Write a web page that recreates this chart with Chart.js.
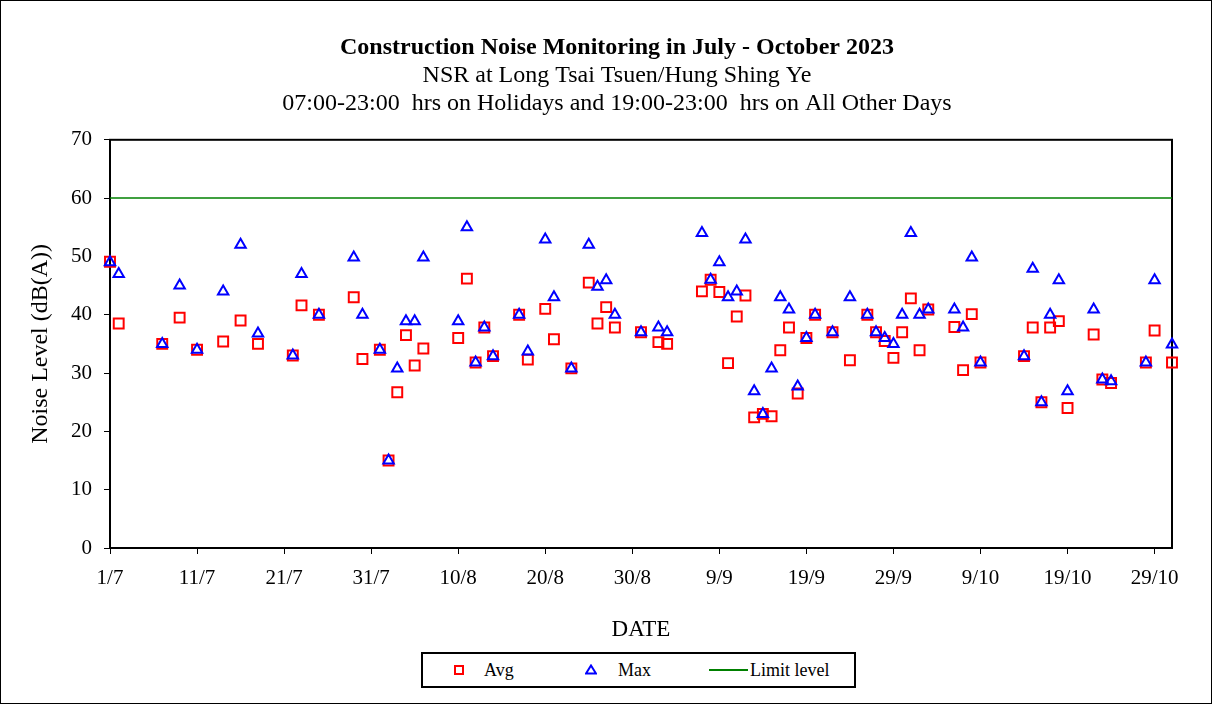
<!DOCTYPE html>
<html>
<head>
<meta charset="utf-8">
<script src="https://cdn.jsdelivr.net/npm/chart.js@4.4.0/dist/chart.umd.min.js"></script>
<style>
    html, body { margin: 0; padding: 0; background: #fff; }
    #wrap { position: relative; width: 1212px; height: 704px; }
    #frame { position: absolute; left: 0; top: 0; width: 1210px; height: 702px; border: 1px solid #000; pointer-events: none; }
    #legend { position: absolute; left: 421px; top: 652px; width: 431px; height: 32px; border: 2px solid #000;
              font-family: 'Liberation Serif', serif; font-size: 18px; color: #000; background: #fff; }
    .item { position: absolute; top: 0; height: 32px; line-height: 32px; white-space: nowrap; }
    .sq { position: absolute; top: 11px; width: 6px; height: 6px; border: 2px solid #ff0000; }
    .tri { position: absolute; top: 10px; }
    .ln { position: absolute; top: 15px; height: 2px; background: #008000; }
</style>
</head>
<body>
<div id="wrap">
    <canvas id="noise-chart" width="1212" height="704"></canvas>
    <div id="legend">
        <span class="sq" style="left:31px"></span>
        <span class="item" style="left:61px">Avg</span>
        <svg class="tri" style="left:162px" width="12" height="11"><polygon points="6,1.5 11,9.5 1,9.5" fill="none" stroke="#0000ff" stroke-width="2"/></svg>
        <span class="item" style="left:195px">Max</span>
        <span class="ln" style="left:286px; width:39px"></span>
        <span class="item" style="left:327px">Limit level</span>
    </div>
    <div id="frame"></div>
</div>
<script>
// Monitoring dates (day/month, 2023)
const dates = ['1/7', '2/7', '7/7', '9/7', '11/7', '14/7', '16/7', '18/7', '22/7', '23/7', '25/7', '29/7', '30/7',
    '1/8', '2/8', '3/8', '4/8', '5/8', '6/8', '10/8', '11/8', '12/8', '13/8', '14/8', '17/8', '18/8', '20/8', '21/8',
    '23/8', '25/8', '26/8', '27/8', '28/8', '31/8', '2/9', '3/9', '7/9', '8/9', '9/9', '10/9', '11/9', '12/9', '13/9',
    '14/9', '15/9', '16/9', '17/9', '18/9', '19/9', '20/9', '22/9', '24/9', '26/9', '27/9', '28/9', '29/9', '30/9',
    '1/10', '2/10', '3/10', '6/10', '7/10', '8/10', '9/10', '14/10', '15/10', '16/10', '17/10', '18/10', '19/10',
    '22/10', '23/10', '24/10', '28/10', '29/10', '31/10'];

const avgLevels = [49.1, 38.5, 35, 39.5, 34, 35.4, 39, 35, 33, 41.6, 40, 43, 32.4,
    34, 15, 26.7, 36.5, 31.3, 34.2, 36, 46.2, 31.8, 37.8, 32.9, 40, 32.3, 41, 35.8,
    30.8, 45.5, 38.5, 41.3, 37.8, 37, 35.3, 35, 44, 46, 43.9, 31.7, 39.7, 43.3, 22.4,
    23, 22.6, 33.9, 37.8, 26.5, 36, 40, 37, 32.2, 40, 37, 35.5, 32.6, 37,
    42.8, 33.9, 40.9, 37.9, 30.5, 40.1, 31.8, 32.9, 37.8, 25, 37.8, 38.9, 24,
    36.6, 28.9, 28.3, 31.8, 37.3, 31.8];

const maxLevels = [49, 47, 35, 45, 34, 44, 52, 36.8, 33, 47, 40, 49.8, 40,
    34, 15, 30.8, 38.9, 38.9, 49.8, 38.9, 55, 31.8, 37.8, 32.9, 40, 33.7, 52.9, 43,
    30.8, 52, 44.8, 45.9, 40, 37, 37.8, 37, 54, 46, 49, 43, 44, 52.9, 26.9,
    23, 30.8, 43, 40.9, 27.7, 36, 40, 37, 43, 40, 37, 36, 35, 40,
    54, 40, 40.9, 40.9, 37.8, 49.8, 31.8, 32.9, 47.9, 25, 40, 45.9, 26.9,
    40.9, 28.9, 28.6, 31.8, 45.9, 34.9];

const limitLevel = 60;
const yMin = 0, yMax = 70, yStep = 10;
const xTickEvery = 10;

const base = Date.UTC(2023, 6, 1);
const DAY = 86400000;
const dayOf = s => {
    const [d, m] = s.split('/').map(Number);
    return (Date.UTC(2023, m - 1, d) - base) / DAY;
};
const labelOf = n => {
    const t = new Date(base + n * DAY);
    return t.getUTCDate() + '/' + (t.getUTCMonth() + 1);
};

const xMin = dayOf(dates[0]);
const xMax = dayOf(dates[dates.length - 1]);

Chart.defaults.font.family = "'Liberation Serif', 'Times New Roman', serif";
Chart.defaults.color = '#000';

// black frame round the plot area
const plotFrame = {
    id: 'plotFrame',
    beforeDatasetsDraw(chart) {
        const { ctx, chartArea: a } = chart;
        ctx.save();
        ctx.strokeStyle = '#000';
        ctx.lineWidth = 2;
        ctx.strokeRect(a.left, a.top, a.right - a.left, a.bottom - a.top);
        ctx.restore();
    }
};

new Chart(document.getElementById('noise-chart'), {
    type: 'scatter',
    data: {
        datasets: [
            {
                label: 'Avg',
                data: dates.map((d, i) => ({ x: dayOf(d), y: avgLevels[i] })),
                pointStyle: 'rect',
                pointRadius: 7,
                pointBorderWidth: 2,
                borderColor: '#ff0000',
                backgroundColor: 'rgba(0,0,0,0)',
                clip: false,
                order: 2
            },
            {
                label: 'Max',
                data: dates.map((d, i) => ({ x: dayOf(d), y: maxLevels[i] })),
                pointStyle: 'triangle',
                pointRadius: 6,
                pointBorderWidth: 2,
                borderColor: '#0000ff',
                backgroundColor: 'rgba(0,0,0,0)',
                clip: false,
                order: 1
            },
            {
                label: 'Limit level',
                data: [{ x: xMin, y: limitLevel }, { x: xMax, y: limitLevel }],
                showLine: true,
                pointRadius: 0,
                borderColor: '#008000',
                borderWidth: 1.5,
                order: 3
            }
        ]
    },
    options: {
        responsive: false,
        animation: false,
        devicePixelRatio: 1,
        layout: { padding: { left: 22, right: 0, top: 0, bottom: 60 } },
        plugins: {
            legend: { display: false },
            tooltip: { enabled: false },
            title: {
                display: true,
                text: 'Construction Noise Monitoring in July - October 2023',
                font: { size: 24, weight: 'bold' },
                color: '#000',
                padding: { top: 33, bottom: 0 }
            },
            subtitle: {
                display: true,
                text: ['NSR at Long Tsai Tsuen/Hung Shing Ye',
                       '07:00-23:00  hrs on Holidays and 19:00-23:00  hrs on All Other Days'],
                font: { size: 24, lineHeight: 28 / 24 },
                color: '#000',
                padding: { top: 0, bottom: 22 }
            }
        },
        scales: {
            x: {
                type: 'linear',
                min: xMin,
                max: xMax,
                afterBuildTicks: axis => {
                    const ticks = [];
                    for (let v = xMin; v <= xMax; v += xTickEvery) ticks.push({ value: v });
                    axis.ticks = ticks;
                },
                afterFit: axis => { axis.height = 96; },
                ticks: {
                    callback: v => labelOf(v),
                    font: { size: 21 },
                    padding: 12,
                    maxRotation: 0,
                    autoSkip: false
                },
                grid: { drawOnChartArea: false, drawTicks: true, tickLength: 6, color: '#000' },
                border: { display: false },
                title: { display: true, text: 'DATE', font: { size: 23 }, padding: { top: 4, bottom: 0 } }
            },
            y: {
                min: yMin,
                max: yMax,
                afterFit: axis => { axis.width = 88; },
                ticks: { stepSize: yStep, font: { size: 21 }, padding: 12 },
                grid: { drawOnChartArea: false, drawTicks: true, tickLength: 6, color: '#000' },
                border: { display: false },
                title: { display: true, text: 'Noise Level (dB(A))', font: { size: 24 }, padding: { top: 4, bottom: 0 } }
            },
            yRight: {
                position: 'right',
                afterFit: axis => { axis.width = 40; },
                ticks: { display: false },
                grid: { display: false },
                border: { display: false }
            }
        }
    },
    plugins: [plotFrame]
});
</script>
</body>
</html>
